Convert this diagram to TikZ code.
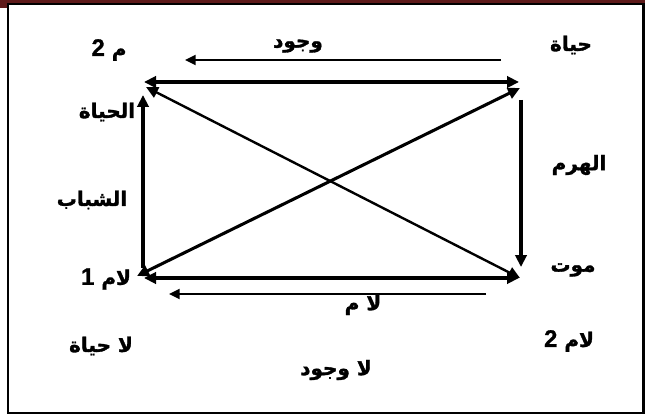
\documentclass[tikz,border=0pt]{standalone}
\usepackage{fontspec}
\usepackage{tikz}
\usetikzlibrary{arrows.meta,positioning,calc}
\TeXXeTstate=1
\newfontfamily\arabicfont[Script=Arabic,FakeBold=1.5]{DejaVu Sans}
\newfontfamily\digitfont[FakeBold=0.8]{Liberation Sans}
\definecolor{FrameRed}{HTML}{5E1A1A}
\tikzset{
  lbl/.style={font=\arabicfont\bfseries\fontsize{15}{17}\selectfont,inner sep=1pt},
  thickarr/.style={line width=2.3pt,-{Triangle[length=9pt,width=8.5pt]}},
  botharr/.style={line width=2.3pt,{Triangle[length=9pt,width=8.5pt]}-{Triangle[length=9pt,width=8.5pt]}},
  thinarr/.style={line width=1.6pt,-{Triangle[length=8pt,width=7.5pt]}}}
\newcommand{\ar}[1]{\beginR #1\endR}
\newcommand{\dg}[1]{{\digitfont\bfseries\fontsize{18}{19}\selectfont #1}}

\begin{document}
\begin{tikzpicture}[x=0.75pt,y=-0.75pt]
  \useasboundingbox (0,0) rectangle (645,417);
  % frame
  \fill[white] (0,0) rectangle (645,417);
  \fill[FrameRed] (0,0) rectangle (645,3);
  \fill[FrameRed] (0,0) rectangle (7,8);
  \draw[line width=1.6pt] (8,4) rectangle (643.5,413);
  % corners and arrow ends
  \coordinate (tl) at (144,82);
  \coordinate (tr) at (519,82);
  \coordinate (bl) at (144,278);
  \coordinate (br) at (519,278);
  \coordinate (lvlo) at (143,268);
  \coordinate (lvhi) at (143,95);
  \coordinate (rvhi) at (521,100);
  \coordinate (rvlo) at (521,267);
  \coordinate (dtl) at (146,87);
  \coordinate (dbr) at (520,278);
  \coordinate (dtr) at (520,88);
  \coordinate (dbl) at (137,276);
  \coordinate (tops) at (501,60);
  \coordinate (tope) at (185,60);
  \coordinate (bots) at (486,294);
  \coordinate (bote) at (169,294);
  % connectors
  \draw[botharr] (tl) -- (tr);
  \draw[botharr] (bl) -- (br);
  \draw[thickarr] (lvlo) -- (lvhi);
  \draw[thickarr] (rvhi) -- (rvlo);
  \draw[botharr,line width=1.8pt] (dtl) -- (dbr);
  \draw[botharr] (dbl) -- (dtr);
  \draw[thinarr] (tops) -- (tope);
  \draw[thinarr] (bots) -- (bote);
  % labels
  \node[lbl] (m2) at (109,50) {\dg{2}~\ar{م}};
  \node[lbl] (wujud) at (298,46) {\ar{وجود}};
  \node[lbl] (hayat) at (571,45) {\ar{حياة}};
  \node[lbl] (alhayat) at (107,112) {\ar{الحياة}};
  \node[lbl] (shabab) at (92,200) {\ar{الشباب}};
  \node[lbl] (haram) at (579,165) {\ar{الهرم}};
  \node[lbl] (lam1) at (106,279) {\dg{1}~\ar{لام}};
  \node[lbl] (mawt) at (573,270) {\ar{موت}};
  \node[lbl] (lam) at (363,305) {\ar{لا م}};
  \node[lbl] (lam2) at (569,341) {\dg{2}~\ar{لام}};
  \node[lbl] (lahayat) at (101,346) {\ar{لا حياة}};
  \node[lbl] (lawujud) at (336,370) {\ar{لا وجود}};
\end{tikzpicture}
\end{document}
